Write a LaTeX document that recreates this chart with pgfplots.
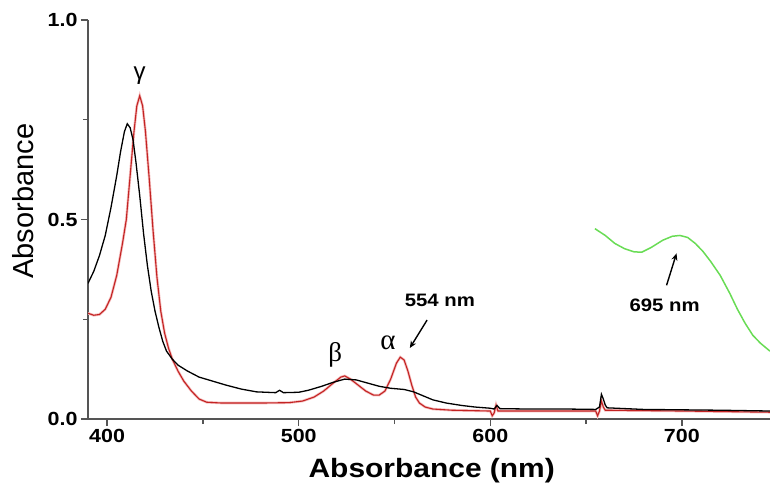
\documentclass[border=0pt]{standalone}
\usepackage{fontspec}
\setmainfont{Liberation Sans}
\newfontfamily\widesans[FakeStretch=1.13]{Liberation Sans}
\newfontfamily\serifgreek{Liberation Serif}
\usepackage{pgfplots}
\usepackage{pgfplotstable}
\pgfplotsset{compat=1.18}
\usetikzlibrary{arrows.meta}
\definecolor{specred}{RGB}{195,35,35}
\definecolor{specpink}{RGB}{245,190,190}
\definecolor{specgreen}{RGB}{105,220,85}
\definecolor{axgray}{RGB}{85,85,85}

\pgfplotstableread{
x y
390 0.34
393 0.37
396 0.41
399 0.46
402 0.53
405 0.61
407 0.67
409 0.72
410.5 0.74
412 0.73
413.5 0.70
415 0.645
417 0.56
419 0.465
421 0.385
423 0.32
425 0.27
427 0.23
429 0.195
431 0.17
434 0.15
437 0.135
442 0.12
448 0.105
455 0.095
462 0.085
470 0.075
478 0.068
488 0.066
490 0.072
492 0.066
500 0.067
505 0.072
512 0.082
518 0.092
524 0.100
530 0.098
536 0.090
542 0.082
548 0.077
555 0.074
560 0.068
565 0.058
570 0.048
577 0.040
585 0.034
592 0.030
600 0.027
602 0.025
603.5 0.034
605 0.026
620 0.025
640 0.025
655 0.024
657 0.030
658 0.062
659 0.050
660 0.035
661 0.028
680 0.024
700 0.023
720 0.022
746 0.020
}\blackdata

\pgfplotstableread{
x y
390 0.265
393 0.260
396 0.262
399 0.275
402 0.305
405 0.360
408 0.440
410 0.500
412 0.610
414 0.720
415.5 0.785
417 0.810
418.5 0.785
420 0.720
422 0.600
424 0.470
426 0.355
428 0.270
430 0.215
432 0.178
434 0.150
437 0.120
440 0.095
444 0.070
448 0.050
452 0.042
460 0.040
480 0.040
495 0.041
502 0.045
508 0.055
513 0.070
518 0.090
522 0.105
524 0.108
527 0.100
531 0.085
535 0.070
539 0.060
542 0.060
545 0.070
548 0.100
551 0.140
553 0.155
555 0.148
557 0.120
559 0.085
561 0.055
563 0.040
566 0.030
570 0.025
580 0.022
600 0.020
601 0.008
602 0.015
603 0.035
604 0.020
620 0.020
640 0.020
655 0.020
656 0.008
657 0.020
658 0.045
659 0.030
660 0.022
700 0.020
746 0.017
}\reddata

\pgfplotstableread{
x y
654.6 0.477
660 0.460
665 0.440
670 0.427
675 0.419
679 0.418
684 0.430
690 0.448
695 0.458
699 0.460
703 0.455
707 0.440
711 0.420
715 0.395
720 0.360
725 0.315
729 0.275
733 0.240
737 0.210
741 0.190
746 0.170
}\greendata

\begin{document}
\begin{tikzpicture}
\useasboundingbox (-88pt,-66pt) rectangle (682pt,419pt);
\begin{axis}[
  at={(0,0)}, anchor=south west,
  scale only axis, width=682pt, height=399pt,
  xmin=390, xmax=746, ymin=0, ymax=1,
  axis lines=left,
  axis line style={-, line width=1.6pt, axgray},
  tick style={line width=1.4pt, axgray},
  tick align=outside,
  major tick length=7pt, minor tick length=5pt,
  xtick={400,500,600,700}, minor xtick={450,550,650},
  ytick={0,0.5,1}, minor ytick={0.25,0.75},
  /pgf/number format/assume math mode=true,
  yticklabel style={/pgf/number format/fixed, /pgf/number format/fixed zerofill, /pgf/number format/precision=1},
  ticklabel style={font=\widesans\fontsize{19}{21}\selectfont\bfseries},
  xlabel={Absorbance (nm)},
  ylabel={Absorbance},
  every axis x label/.style={at={(axis description cs:0.504,0)}, anchor=base, yshift=-58pt, font=\widesans\fontsize{26.5}{30}\selectfont\bfseries},
  every axis y label/.style={at={(axis description cs:-0.1114,0.546)}, rotate=90, anchor=north, inner sep=0pt, font=\fontsize{29}{32}\selectfont},
  clip=true,
]
\addplot[no marks, line width=2.6pt, specpink] table[x=x,y=y] {\reddata};
\addplot[no marks, line width=1.1pt, specred] table[x=x,y=y] {\reddata};
\addplot[no marks, line width=1.3pt, black] table[x=x,y=y] {\blackdata};
\addplot[no marks, line width=1.5pt, specgreen] table[x=x,y=y] {\greendata};

\node[font=\fontsize{24}{26}\selectfont] at (axis cs:417,0.86) {γ};
\node[font=\serifgreek\fontsize{27}{29}\selectfont] at (axis cs:519,0.16) {β};
\node[font=\serifgreek\fontsize{29}{31}\selectfont] at (axis cs:546.6,0.19) {α};
\node[font=\widesans\fontsize{18}{20}\selectfont\bfseries] at (axis cs:573.7,0.298) {554 nm};
\node[font=\widesans\fontsize{18}{20}\selectfont\bfseries] at (axis cs:691,0.285) {695 nm};
\draw[line width=1.4pt, -{Stealth[length=7pt,width=6pt]}] (axis cs:567,0.248) -- (axis cs:558,0.178);
\draw[line width=1.4pt, -{Stealth[length=7pt,width=6pt]}] (axis cs:692,0.335) -- (axis cs:697.2,0.415);
\end{axis}
\end{tikzpicture}
\end{document}
